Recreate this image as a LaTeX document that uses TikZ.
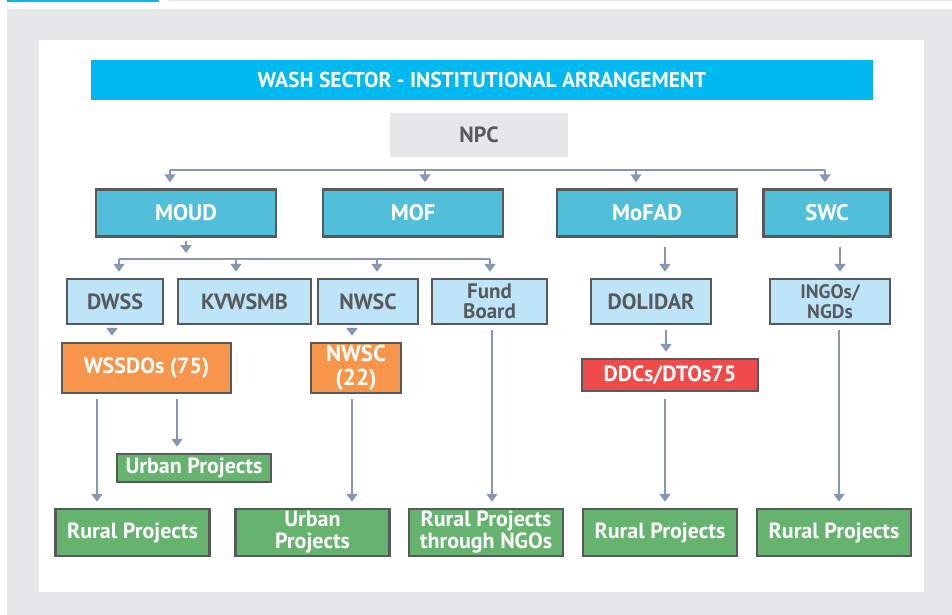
\documentclass[tikz,border=0pt]{standalone}
\usepackage{fontspec}
\setmainfont{PT Sans}
\usetikzlibrary{arrows.meta,positioning}

\definecolor{washcyan}{HTML}{00B9F1}
\definecolor{panelgray}{HTML}{E6E7E8}
\definecolor{ministry}{HTML}{52BFDA}
\definecolor{dept}{HTML}{BEE5F7}
\definecolor{office}{HTML}{F7964A}
\definecolor{district}{HTML}{EE4B4A}
\definecolor{project}{HTML}{66B36F}
\definecolor{edgegray}{HTML}{58595B}
\definecolor{linkblue}{HTML}{8597B2}

\tikzset{
  box/.style={draw=edgegray, line width=2.5pt, inner sep=0pt, align=center,
    text=white, font=\bfseries\fontsize{22}{22}\selectfont},
  minbox/.style={box, fill=ministry, minimum height=47pt,
    font=\bfseries\fontsize{22.5}{22}\selectfont},
  deptbox/.style={box, fill=dept, text=edgegray, minimum height=45pt},
  offbox/.style={box, fill=office, minimum height=50pt},
  projbox/.style={box, fill=project, minimum height=47pt, minimum width=154pt},
  bus/.style={draw=linkblue, line width=2.5pt},
  link/.style={bus, -{Triangle[length=8pt,width=11pt]}, shorten >=6pt}
}

\begin{document}
\begin{tikzpicture}[x=1pt,y=-1pt]
  \useasboundingbox (0,0) rectangle (952,615);
  % frame
  \fill[washcyan] (7,0) rectangle (159,2.5);
  \fill[panelgray] (168,0) rectangle (952,1.5);
  \fill[panelgray] (7,9) rectangle (952,615);
  \fill[white] (39,40) rectangle (924,592);

  % heading
  \node[fill=washcyan, text=white, minimum width=782pt, minimum height=40pt,
    font=\bfseries\fontsize{21.5}{21}\selectfont] (title) at (482,80)
    {WASH SECTOR - INSTITUTIONAL ARRANGEMENT};
  \node[fill=panelgray, text=edgegray, minimum width=178pt, minimum height=44pt,
    font=\bfseries\fontsize{22}{22}\selectfont] (npc) at (479,135) {NPC};

  % ministries
  \begin{scope}[every node/.style={minbox}]
    \node[minimum width=180pt] (moud) at (186,213) {MOUD};
    \node[minimum width=180pt] (mof) at (413,213) {MOF};
    \node[minimum width=180pt] (mofad) at (647,213) {MoFAD};
    \node[minimum width=127pt] (swc) at (827,213) {SWC};
  \end{scope}

  % departments
  \begin{scope}[every node/.style={deptbox}]
    \node[minimum width=96pt] (dwss) at (115,301.5) {DWSS};
    \node[minimum width=133pt] (kvwsmb) at (244.5,301.5) {KVWSMB};
    \node[minimum width=100pt] (nwsc) at (368,301.5) {NWSC};
    \node[minimum width=115pt, font=\bfseries\fontsize{21}{20}\selectfont]
      (fund) at (489.5,301.5) {Fund\\Board};
    \node[minimum width=120pt] (dolidar) at (651,301.5) {DOLIDAR};
    \node[minimum width=120pt, font=\bfseries\fontsize{19.5}{20}\selectfont]
      (ingos) at (830,301.5) {INGOs/\\NGDs};
  \end{scope}

  % district offices
  \node[offbox, minimum width=169pt] (wssdo) at (146.5,368) {WSSDOs (75)};
  \node[offbox, minimum width=90pt, font=\bfseries\fontsize{23}{24}\selectfont]
    (nwscd) at (356,368) {NWSC\\(22)};
  \node[box, fill=district, minimum width=176pt, minimum height=32pt] (ddc)
    at (670,375) {DDCs/DTOs75};

  % projects
  \node[box, fill=project, minimum width=154pt, minimum height=28pt] (urbansm)
    at (194,468) {Urban Projects};
  \begin{scope}[every node/.style={projbox}]
    \node (rural1) at (132.5,532.5) {Rural Projects};
    \node[font=\bfseries\fontsize{22}{22}\selectfont] (urban) at (312.5,532.5)
      {Urban\\Projects};
    \node[font=\bfseries\fontsize{22}{22}\selectfont] (ruralngo) at (486,532.5)
      {Rural Projects\\through NGOs};
    \node (rural2) at (660,532.5) {Rural Projects};
    \node (rural3) at (834,532.5) {Rural Projects};
  \end{scope}

  % connectors
  \coordinate (n1) at (170,170);
  \coordinate (n2) at (425,170);
  \coordinate (n3) at (636,170);
  \coordinate (n4) at (825,170);
  \draw[bus] (n1) -- (n4);
  \foreach \c/\t in {n1/moud, n2/mof, n3/mofad, n4/swc}
    \draw[link] (\c) -- (\c |- \t.north);

  \coordinate (m0) at (186,259);
  \coordinate (m1) at (119,259);
  \coordinate (m2) at (236,259);
  \coordinate (m3) at (377,259);
  \coordinate (m4) at (490,259);
  \draw[link, shorten <=3pt] (moud.south) -- (m0);
  \draw[bus] (m1) -- (m4);
  \foreach \c/\t in {m1/dwss, m2/kvwsmb, m3/nwsc, m4/fund}
    \draw[link] (\c) -- (\c |- \t.north);

  \draw[link, shorten <=9pt] ([xshift=18pt]mofad.south) -- ([xshift=18pt]mofad.south |- dolidar.north);
  \draw[link, shorten <=9pt] ([xshift=13pt]swc.south) -- ([xshift=13pt]swc.south |- ingos.north);

  \draw[link, shorten <=5pt] ([xshift=-3pt]dwss.south) -- ([xshift=-3pt]dwss.south |- wssdo.north);
  \draw[link, shorten <=5pt] ([xshift=-16pt]nwsc.south) -- ([xshift=-16pt]nwsc.south |- nwscd.north);
  \draw[link, shorten <=5pt] ([xshift=15pt]dolidar.south) -- ([xshift=15pt]dolidar.south |- ddc.north);
  \draw[link, shorten <=5pt] ([xshift=2.5pt]fund.south) -- ([xshift=2.5pt]fund.south |- ruralngo.north);
  \draw[link, shorten <=5pt] ([xshift=9pt]ingos.south) -- ([xshift=9pt]ingos.south |- rural3.north);

  \draw[link, shorten <=5pt] ([xshift=-49.5pt]wssdo.south) -- ([xshift=-49.5pt]wssdo.south |- rural1.north);
  \draw[link, shorten <=5pt] ([xshift=30.5pt]wssdo.south) -- ([xshift=30.5pt]wssdo.south |- urbansm.north);
  \draw[link, shorten <=5pt] ([xshift=-4pt]nwscd.south) -- ([xshift=-4pt]nwscd.south |- urban.north);
  \draw[link, shorten <=7pt] ([xshift=-5pt]ddc.south) -- ([xshift=-5pt]ddc.south |- rural2.north);
\end{tikzpicture}
\end{document}
